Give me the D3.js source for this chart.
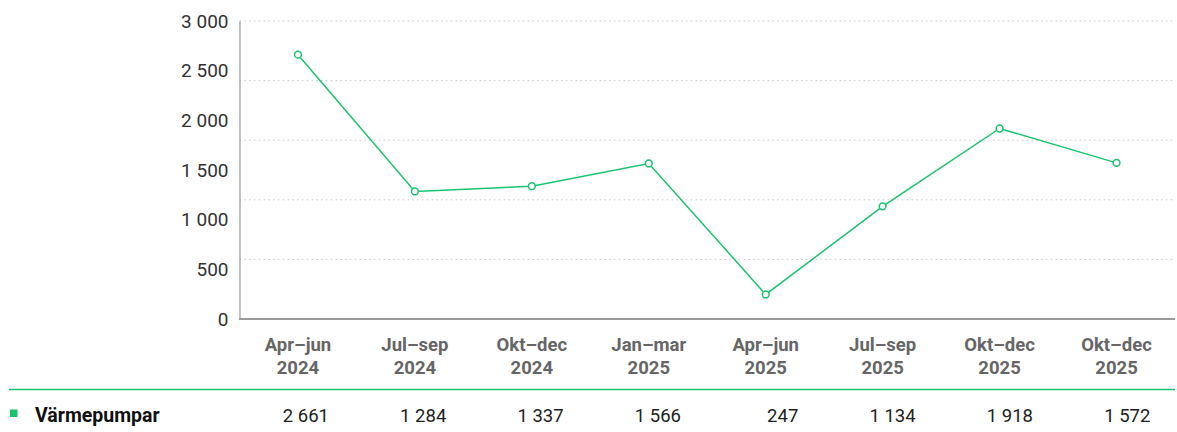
<!DOCTYPE html>
<html>
<head>
<meta charset="utf-8">
<script src="https://cdn.jsdelivr.net/npm/d3@7"></script>
<style>
    body { margin: 0; background: #fff; }
    svg text { font-family: Roboto, "Noto Sans", sans-serif; }
</style>
</head>
<body>
<svg id="SVG_CONTAINER" width="1177" height="432"></svg>
<script>
// quarters shown along the x axis (two rows per label)
const quarters = ["Apr–jun", "Jul–sep", "Okt–dec", "Jan–mar", "Apr–jun", "Jul–sep", "Okt–dec", "Okt–dec"];
const years = ["2024", "2024", "2024", "2025", "2025", "2025", "2025", "2025"];
const seriesName = "Värmepumpar";
const values = [2661, 1284, 1337, 1566, 247, 1134, 1918, 1572];
const yTicks = [0, 500, 1000, 1500, 2000, 2500, 3000];
const gridValues = [600, 1200, 1800, 2400, 3000];

const GREEN = "#19c46f";

const MARGIN = {
    "LEFT": 239.5,
    "RIGHT": 2,
    "TOP": 21,
    "BOTTOM": 113,
};
const width = 1177, height = 432;

let svg = d3.select("#SVG_CONTAINER");

// swedish style thousands separator
let fmt = d3.formatLocale({decimal: ",", thousands: "\u00a0", grouping: [3], currency: ["", " kr"]}).format(",d");

//** SCALES *****************************************
let xScale = d3.scaleBand()
    .domain(d3.range(values.length))
    .range([MARGIN.LEFT, width - MARGIN.RIGHT]);

let yScale = d3.scaleLinear()
    .domain([0, 3000])
    .range([height - MARGIN.BOTTOM, MARGIN.TOP]);

let xc = i => xScale(i) + xScale.bandwidth() / 2;

//** GRID *****************************************
svg.append("g")
    .selectAll("line")
    .data(gridValues)
    .enter()
    .append("line")
    .attr("x1", MARGIN.LEFT)
    .attr("x2", width - 4)
    .attr("y1", d => yScale(d))
    .attr("y2", d => yScale(d))
    .style("stroke", "#c8c8c8")
    .style("stroke-width", 1)
    .style("stroke-dasharray", "1.5,3.3");

//** AXES *****************************************
let yAxis = d3.axisLeft(yScale)
    .tickValues(yTicks)
    .tickSize(0)
    .tickPadding(11)
    .tickFormat(fmt);

let gy = svg.append("g")
    .attr("transform", "translate(" + MARGIN.LEFT + ",0)")
    .call(yAxis);
gy.select(".domain").style("stroke", "#9a9a9a").style("stroke-width", 1.2);
gy.selectAll("text")
    .style("font-size", "19px")
    .style("fill", "#333");

// bottom axis line
svg.append("line")
    .attr("x1", MARGIN.LEFT - 0.6)
    .attr("x2", width - MARGIN.RIGHT)
    .attr("y1", yScale(0))
    .attr("y2", yScale(0))
    .style("stroke", "#9a9a9a")
    .style("stroke-width", 2);

// category labels
let xLabels = svg.append("g")
    .selectAll("text")
    .data(quarters)
    .enter()
    .append("text")
    .attr("text-anchor", "middle")
    .attr("x", (d, i) => xc(i))
    .style("font-size", "18.5px")
    .style("font-weight", "bold")
    .style("fill", "#666");
xLabels.append("tspan")
    .attr("x", (d, i) => xc(i))
    .attr("y", 351)
    .text(d => d);
xLabels.append("tspan")
    .attr("x", (d, i) => xc(i))
    .attr("y", 374)
    .text((d, i) => years[i]);

//** LINE + POINTS *****************************************
let line = d3.line()
    .x((d, i) => xc(i))
    .y(d => yScale(d));

svg.append("path")
    .datum(values)
    .attr("d", line)
    .style("fill", "none")
    .style("stroke", GREEN)
    .style("stroke-width", 1.5);

svg.append("g")
    .selectAll("circle")
    .data(values)
    .enter()
    .append("circle")
    .attr("cx", (d, i) => xc(i))
    .attr("cy", d => yScale(d))
    .attr("r", 3.4)
    .style("fill", "#fff")
    .style("stroke", GREEN)
    .style("stroke-width", 1.5);

//** DATA TABLE *****************************************
svg.append("line")
    .attr("x1", 9)
    .attr("x2", width - MARGIN.RIGHT)
    .attr("y1", 389.5)
    .attr("y2", 389.5)
    .style("stroke", GREEN)
    .style("stroke-width", 1.5);

svg.append("rect")
    .attr("x", 10)
    .attr("y", 409.5)
    .attr("width", 7.5)
    .attr("height", 7.5)
    .style("fill", GREEN);

svg.append("text")
    .attr("x", 35)
    .attr("y", 421.5)
    .style("font-size", "19.5px")
    .style("font-weight", "bold")
    .style("fill", "#111")
    .text(seriesName);

// table values are right aligned in their cells
svg.append("g")
    .selectAll("text")
    .data(values)
    .enter()
    .append("text")
    .attr("text-anchor", "end")
    .attr("x", (d, i) => xc(i) + 31 + i * 0.4)
    .attr("y", 421.5)
    .style("font-size", "18.5px")
    .style("fill", "#222")
    .text(d => fmt(d));
</script>
</body>
</html>
